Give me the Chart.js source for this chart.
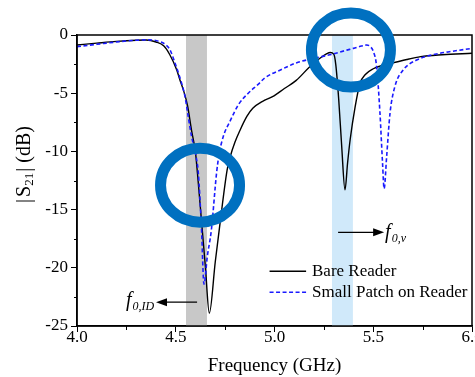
<!DOCTYPE html>
<html>
<head>
<meta charset="utf-8">
<script src="https://cdn.jsdelivr.net/npm/chart.js@4/dist/chart.umd.min.js"></script>
<style>
  html, body { margin: 0; padding: 0; background: #fff; overflow: hidden; width: 475px; height: 377px; }
  #wrap { position: absolute; left: 0; top: 0; width: 492px; height: 377px; }
</style>
</head>
<body>
<div id="wrap"><canvas id="c" width="492" height="377"></canvas></div>
<script>
// ---- Data ----
const bareFreq = [4.00, 4.10, 4.20, 4.30, 4.35, 4.40, 4.44, 4.47, 4.505, 4.52, 4.54, 4.56, 4.58, 4.60, 4.61, 4.63, 4.65, 4.67,
  4.70, 4.724, 4.76, 4.775, 4.80, 4.825, 4.86, 4.89, 4.94, 4.99, 5.05, 5.11, 5.18, 5.23, 5.265, 5.282, 5.30, 5.31, 5.325, 5.34, 5.357,
  5.37, 5.383, 5.408, 5.433, 5.46, 5.50, 5.55, 5.60, 5.67, 5.74, 5.85, 6.00];
const bareDb = [-0.86, -0.70, -0.55, -0.45, -0.43, -0.60, -0.95, -1.7, -3.0, -3.8, -4.8, -6.1, -8.2, -10.1, -11.9, -15.9, -19.9, -23.9,
  -19.5, -16.2, -11.6, -10.5, -9.2, -8.2, -7.0, -6.3, -5.7, -5.3, -4.6, -3.9, -2.7, -2.0, -1.6, -1.5, -1.65, -2.5, -5.5, -9.5, -13.3,
  -11.0, -9.0, -6.2, -4.15, -3.4, -2.9, -2.6, -2.4, -2.1, -1.86, -1.7, -1.57];

const patchFreq = [4.00, 4.10, 4.20, 4.30, 4.36, 4.42, 4.45, 4.47, 4.496, 4.52, 4.547, 4.564, 4.58, 4.60, 4.614, 4.63, 4.643,
  4.66, 4.68, 4.707, 4.72, 4.741, 4.775, 4.817, 4.867, 4.92, 4.95, 5.03, 5.11, 5.20, 5.28, 5.366, 5.40, 5.44, 5.467, 5.485,
  5.50, 5.517, 5.534, 5.547, 5.555, 5.568, 5.585, 5.61, 5.652, 5.72, 5.82, 5.90, 6.00];
const patchDb = [-1.0, -0.80, -0.60, -0.45, -0.42, -0.57, -0.85, -1.25, -2.4, -3.6, -5.3, -7.1, -8.7, -10.2, -11.8, -16.5, -21.4,
  -19.0, -16.8, -11.8, -10.2, -8.7, -7.4, -6.0, -5.0, -4.2, -3.7, -3.0, -2.4, -2.0, -1.7, -1.3, -1.15, -0.95, -0.86, -1.0,
  -1.4, -2.7, -6.7, -11.0, -13.2, -10.4, -6.7, -4.4, -3.0, -2.15, -1.63, -1.4, -1.15];

const xTicks = [4.0, 4.5, 5.0, 5.5, 6.0];
const yTicks = [0, -5, -10, -15, -20, -25];
const seriesNames = ["Bare Reader", "Small Patch on Reader"];

// highlighted bands (GHz)
const grayBand = [4.552, 4.658];
const blueBand = [5.291, 5.397];
// highlight circles: [centre GHz, centre dB]
const circleCentres = [[4.623, -12.9], [5.387, -1.29]];
// annotation arrows: [fromGHz, toGHz, dB]
const arrowID = [4.608, 4.40, -22.95];
const arrowV = [5.322, 5.555, -16.95];

const toPts = (fs, ds) => fs.map((f, i) => ({ x: f, y: ds[i] }));

const FONT = "'Liberation Serif', 'Times New Roman', serif";

const decorPlugin = {
  id: 'decor',
  beforeDatasetsDraw(chart) {
    const { ctx, chartArea: a, scales: { x, y } } = chart;
    ctx.save();
    ctx.fillStyle = 'rgb(200,200,200)';
    ctx.fillRect(x.getPixelForValue(grayBand[0]), a.top, x.getPixelForValue(grayBand[1]) - x.getPixelForValue(grayBand[0]), a.bottom - a.top);
    ctx.fillStyle = 'rgb(208,233,250)';
    ctx.fillRect(x.getPixelForValue(blueBand[0]), a.top, x.getPixelForValue(blueBand[1]) - x.getPixelForValue(blueBand[0]), a.bottom - a.top);
    ctx.restore();
  },
  afterDatasetsDraw(chart) {
    const { ctx, chartArea: a, scales: { x, y } } = chart;
    ctx.save();
    // frame
    ctx.strokeStyle = '#000';
    ctx.lineWidth = 1.5;
    ctx.strokeRect(a.left, a.top, a.right - a.left, a.bottom - a.top);
    // minor ticks
    ctx.lineWidth = 1;
    ctx.beginPath();
    for (let v = 4.25; v < 6; v += 0.5) {
      const px = Math.round(x.getPixelForValue(v)) + 0.5;
      ctx.moveTo(px, a.bottom); ctx.lineTo(px, a.bottom + 4);
    }
    for (let v = -2.5; v > -25; v -= 5) {
      const py = Math.round(y.getPixelForValue(v)) + 0.5;
      ctx.moveTo(a.left, py); ctx.lineTo(a.left - 3, py);
    }
    ctx.stroke();

    // arrows
    const drawArrow = (fx, tx, yv) => {
      const x0 = x.getPixelForValue(fx), x1 = x.getPixelForValue(tx), py = y.getPixelForValue(yv);
      const dir = Math.sign(x1 - x0);
      ctx.strokeStyle = '#000'; ctx.fillStyle = '#000'; ctx.lineWidth = 1.3;
      ctx.beginPath(); ctx.moveTo(x0, py); ctx.lineTo(x1 - dir * 8, py); ctx.stroke();
      ctx.beginPath(); ctx.moveTo(x1, py); ctx.lineTo(x1 - dir * 11, py - 4); ctx.lineTo(x1 - dir * 11, py + 4); ctx.closePath(); ctx.fill();
    };
    drawArrow(arrowID[0], arrowID[1], arrowID[2]);
    drawArrow(arrowV[0], arrowV[1], arrowV[2]);

    // f labels
    ctx.fillStyle = '#000';
    ctx.textBaseline = 'alphabetic';
    ctx.textAlign = 'left';
    const fLabel = (px, py, sub) => {
      ctx.font = `italic 20px ${FONT}`;
      ctx.fillText('f', px, py);
      const w = ctx.measureText('f').width;
      ctx.font = `italic 12px ${FONT}`;
      ctx.fillText(sub, px + w + 1, py + 4);
    };
    const idX = x.getPixelForValue(arrowID[1]);
    fLabel(idX - 30, y.getPixelForValue(arrowID[2]) + 4, '0,ID');
    const vX = x.getPixelForValue(arrowV[1]);
    fLabel(vX + 1, y.getPixelForValue(arrowV[2]) + 6, '0,v');

    // legend
    const lx0 = x.getPixelForValue(4.975), lx1 = x.getPixelForValue(5.16), tx = x.getPixelForValue(5.19);
    const ly = [y.getPixelForValue(-20.3), y.getPixelForValue(-22.1)];
    ctx.lineWidth = 1.5;
    ctx.strokeStyle = '#000'; ctx.setLineDash([]);
    ctx.beginPath(); ctx.moveTo(lx0, ly[0]); ctx.lineTo(lx1, ly[0]); ctx.stroke();
    ctx.strokeStyle = '#1a1aff'; ctx.setLineDash([4, 2.5]);
    ctx.beginPath(); ctx.moveTo(lx0, ly[1]); ctx.lineTo(lx1, ly[1]); ctx.stroke();
    ctx.setLineDash([]);
    ctx.font = `17px ${FONT}`;
    ctx.textBaseline = 'middle';
    ctx.fillStyle = '#000';
    ctx.fillText(seriesNames[0], tx, ly[0]);
    ctx.fillText(seriesNames[1], tx, ly[1]);

    // circles
    ctx.strokeStyle = 'rgb(0,112,192)';
    ctx.lineWidth = 11;
    circleCentres.forEach(([cf, cd]) => {
      ctx.beginPath();
      ctx.ellipse(x.getPixelForValue(cf), y.getPixelForValue(cd), 39.5, 37, 0, 0, Math.PI * 2);
      ctx.stroke();
    });

    // y axis title |S21| (dB)
    ctx.save();
    ctx.translate(25, (a.top + a.bottom) / 2 - 16);
    ctx.rotate(-Math.PI / 2);
    ctx.fillStyle = '#000';
    ctx.textBaseline = 'middle';
    const parts = [['|', 20, 0], ['S', 20, 0], ['21', 13, 5], ['|', 20, 0], [' (dB)', 20, 0]];
    const gap = [2, 0, 1, 0, 0];
    let total = 0;
    parts.forEach(([t, s], i) => { ctx.font = `${s}px ${FONT}`; total += ctx.measureText(t).width + gap[i]; });
    let cx = -total / 2;
    parts.forEach(([t, s, off], i) => {
      ctx.font = `${s}px ${FONT}`;
      ctx.textAlign = 'left';
      ctx.fillText(t, cx, off);
      cx += ctx.measureText(t).width + gap[i];
    });
    ctx.restore();
    ctx.restore();
  }
};

new Chart(document.getElementById('c'), {
  type: 'line',
  data: {
    datasets: [
      {
        label: seriesNames[0],
        data: toPts(bareFreq, bareDb),
        borderColor: '#000',
        borderWidth: 1.4,
        pointRadius: 0,
        cubicInterpolationMode: 'monotone',
        order: 2
      },
      {
        label: seriesNames[1],
        data: toPts(patchFreq, patchDb),
        borderColor: '#1a1aff',
        borderWidth: 1.6,
        borderDash: [4, 2.5],
        pointRadius: 0,
        cubicInterpolationMode: 'monotone',
        order: 1
      }
    ]
  },
  options: {
    responsive: false,
    animation: false,
    layout: { padding: { top: 35, right: 20, left: 0, bottom: 0 } },
    plugins: { legend: { display: false }, tooltip: { enabled: false } },
    scales: {
      x: {
        type: 'linear', min: 4, max: 6,
        afterBuildTicks: (s) => { s.ticks = xTicks.map(v => ({ value: v })); },
        ticks: { callback: v => v.toFixed(1), color: '#000', font: { family: FONT, size: 17 }, padding: -5, maxRotation: 0 },
        grid: { drawOnChartArea: false, tickLength: 6, tickColor: '#000', tickWidth: 1 },
        border: { color: '#000', width: 1.5 },
        title: { display: true, text: 'Frequency (GHz)', color: '#000', font: { family: FONT, size: 19 }, padding: { top: 0, bottom: 0 } },
        afterFit: (s) => { s.height = 51; }
      },
      y: {
        type: 'linear', min: -25, max: 0,
        afterBuildTicks: (s) => { s.ticks = yTicks.map(v => ({ value: v })); },
        ticks: { callback: v => String(v), color: '#000', font: { family: FONT, size: 17 }, padding: 3 },
        grid: { drawOnChartArea: false, tickLength: 6, tickColor: '#000', tickWidth: 1 },
        border: { color: '#000', width: 1.5 },
        afterFit: (s) => { s.width = 77; }
      }
    }
  },
  plugins: [decorPlugin]
});
</script>
</body>
</html>
